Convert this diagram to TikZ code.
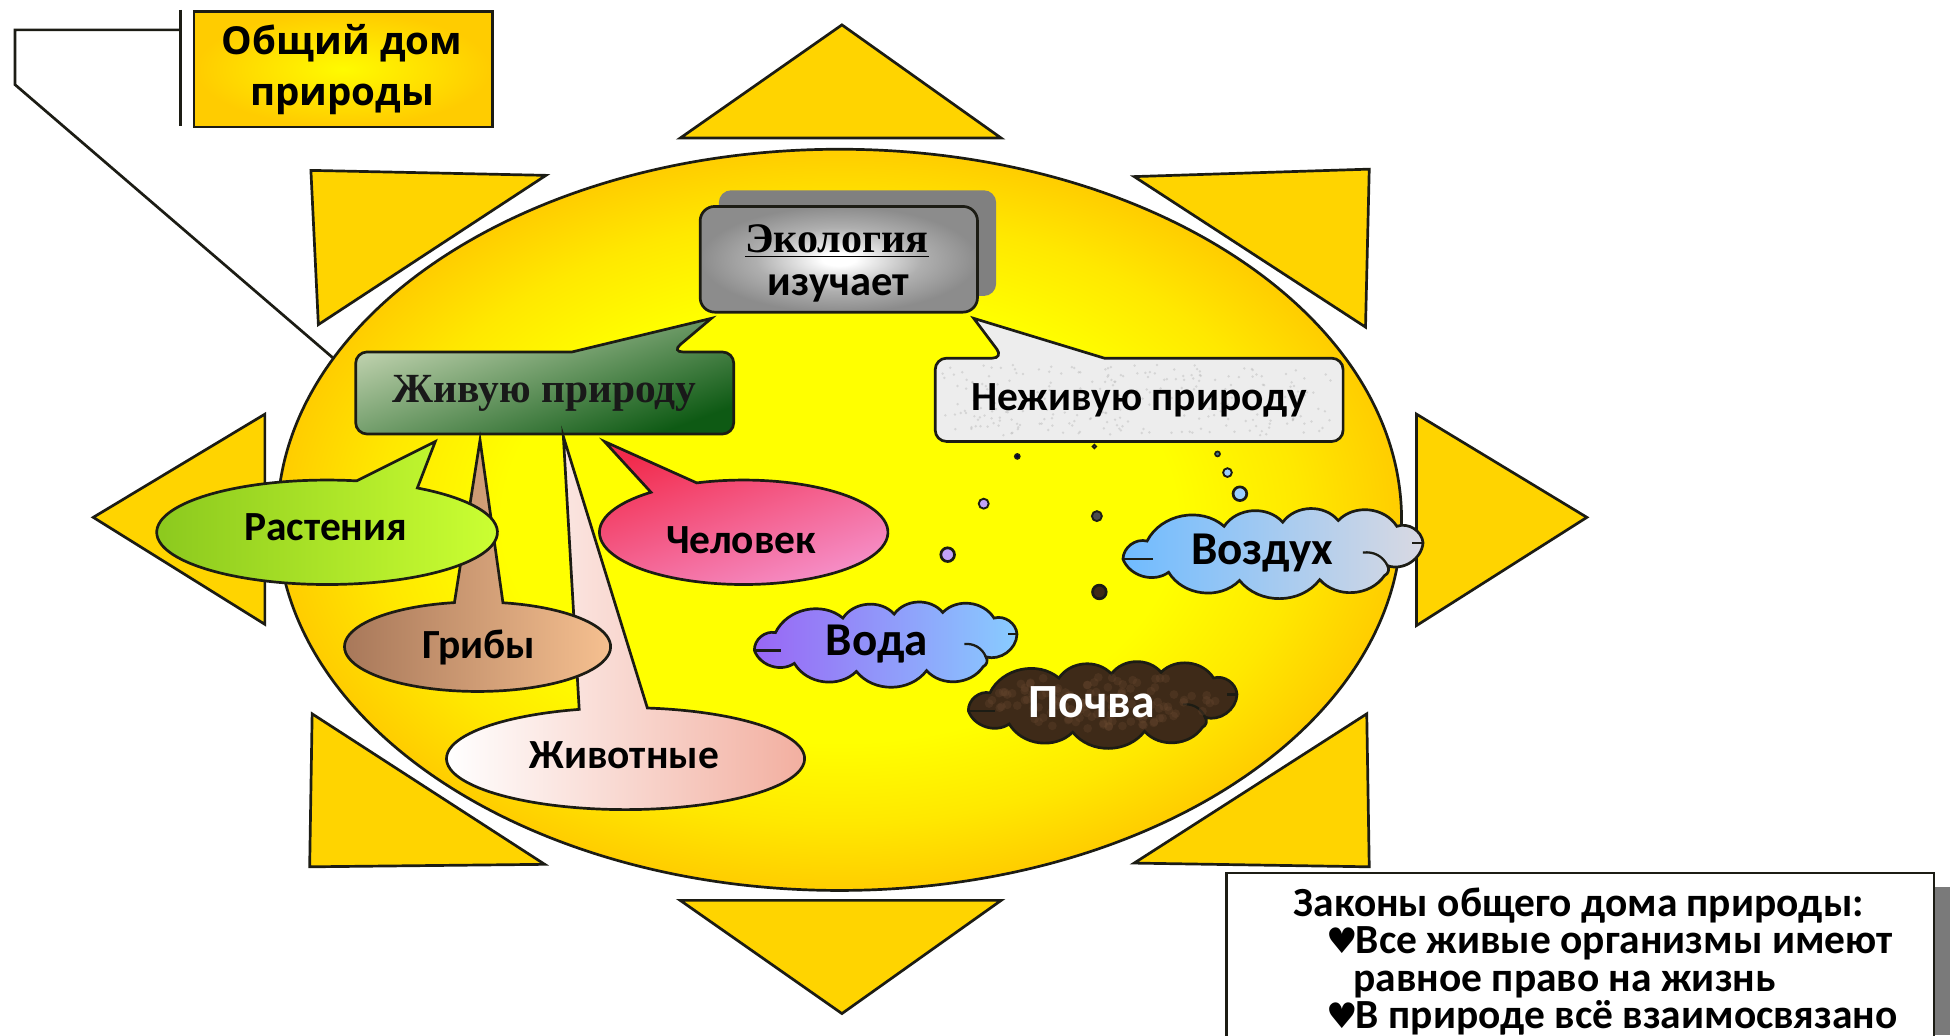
\documentclass[tikz,border=0pt]{standalone}
\usepackage{fontspec}
\setmainfont{Carlito}
\newfontfamily\serifbold{Liberation Serif}[BoldFont={Liberation Serif Bold}]
\newfontfamily\titlefont{Open Sans}
\newfontfamily\symfont{DejaVu Sans}
\usetikzlibrary{shadings}
\definecolor{ink}{HTML}{1C1C14}
\definecolor{ray}{HTML}{FFD400}
\definecolor{sunMid}{RGB}{255,232,0}
\definecolor{sunEdge}{RGB}{255,205,0}
\definecolor{ecoMid}{RGB}{175,175,175}
\definecolor{ecoEdge}{RGB}{140,140,140}
\pgfdeclareradialshading{sunglow}{\pgfpoint{0bp}{0bp}}{color(0bp)=(yellow); color(15bp)=(yellow); color(20.5bp)=(sunMid); color(25bp)=(sunEdge); color(50bp)=(sunEdge)}
\pgfdeclareradialshading{ecoglow}{\pgfpoint{0bp}{0bp}}{color(0bp)=(white); color(3bp)=(white); color(15bp)=(ecoMid); color(25bp)=(ecoEdge); color(50bp)=(ecoEdge)}
\definecolor{liveL}{HTML}{C6D6B4}\definecolor{liveR}{HTML}{0E5A14}
\definecolor{plantL}{HTML}{8CC91E}\definecolor{plantR}{HTML}{CBFF32}
\definecolor{manL}{HTML}{F22B4C}\definecolor{manR}{HTML}{F58FC8}
\definecolor{fungL}{HTML}{A8785A}\definecolor{fungR}{HTML}{F6C090}
\definecolor{animR}{HTML}{F2AFA0}
\definecolor{airL}{HTML}{6FBBFF}\definecolor{airR}{HTML}{D9D9E2}
\definecolor{watL}{HTML}{9966F5}\definecolor{watR}{HTML}{88CCFF}
\definecolor{soil}{HTML}{3E2A18}
\definecolor{soilspot}{HTML}{6B4A30}
\tikzset{
  x=0.6pt,y=-0.6pt,
  outline/.style={draw=ink,line width=1.3pt,line join=miter},
  rayshape/.style={outline,fill=ray},
  lbl/.style={font=\fontsize{20}{24}\selectfont\bfseries,text=black,inner sep=0pt},
  bigger/.style={font=\fontsize{22.7}{26}\selectfont\bfseries,text=black,inner sep=0pt},
  lawtext/.style={font=\fontsize{20}{24}\selectfont\bfseries,text=black,inner sep=0pt,anchor=base west},
  lawheart/.style={font=\symfont\fontsize{17}{20}\selectfont,text=black,inner sep=0pt,anchor=base west},
  titletext/.style={font=\titlefont\fontsize{18.6}{24.6}\selectfont\bfseries,text=black,inner sep=0pt},
}
% centre x, centre y, rx, ry, start angle, end angle, tip x, tip y, style
\newcommand\talkellipse[9]{%
  \path[outline,#9] plot[domain=#5:#6,samples=90,smooth] ({#1+#3*cos(\x)},{#2+#4*sin(\x)}) -- (#7,#8) -- cycle;}
% left, top, width, height, style
\newcommand\puffpath[5]{%
  \begin{scope}[shift={(#1,#2)},x={(#3*0.6pt,0pt)},y={(0pt,-#4*0.6pt)},every to/.style={bend left=52}]
    \path[outline,#5] (0.09,0.38) to (0.34,0.20) to (0.53,0.15) to (0.71,0.13) to (0.90,0.20) to (0.985,0.40)
      to (0.87,0.68) to (0.86,0.80) to (0.65,0.85) to (0.39,0.86) to (0.16,0.76) to (0.012,0.60) to (0.09,0.38) -- cycle;
    \draw[ink,line width=1.1pt] (0.012,0.60) -- (0.11,0.60);
    \draw[ink,line width=1.1pt] (0.79,0.52) to[bend left=35] (0.87,0.68);
    \draw[ink,line width=1.1pt] (0.985,0.40) -- (0.95,0.40);
  \end{scope}}
\begin{document}
\begin{tikzpicture}
\useasboundingbox (0,0) rectangle (1568,832.3);
\clip (0,0) rectangle (1568,832.3);
\fill[white] (0,0) rectangle (1568,832.3);
\pgfmathsetseed{7}

% rays
\path[rayshape] (677,20) -- (805,111) -- (547,111) -- cycle;
\path[rayshape] (912,142) -- (1101,136) -- (1098,263) -- cycle;
\path[rayshape] (1139,333) -- (1276,416) -- (1139,503) -- cycle;
\path[rayshape] (1099,574) -- (1101,697) -- (912,694) -- cycle;
\path[rayshape] (547,724) -- (805,724) -- (677,815) -- cycle;
\path[rayshape] (251,574) -- (438,695) -- (249,697) -- cycle;
\path[rayshape] (213,333) -- (75,416) -- (213,502) -- cycle;
\path[rayshape] (250,137) -- (439,141) -- (256,261) -- cycle;

% connector behind the sun
\coordinate (barTop) at (145,8);
\coordinate (barEnd) at (145,101);
\coordinate (barJoin) at (145,24);
\coordinate (bendA) at (12,24);
\coordinate (bendB) at (12,68);
\coordinate (sunHit) at (268,288);
\draw[ink,line width=1.3pt] (barJoin) -- (bendA) -- (bendB) -- (sunHit);
\draw[ink,line width=1.4pt] (barTop) -- (barEnd);

% sun disc
\path[outline,shading=sunglow] (675,418) ellipse [x radius=452,y radius=298];

% title box
\node[outline,inner sep=0pt,minimum width=144pt,minimum height=55.8pt,anchor=north west,
      inner color=yellow!90!ray,outer color=ray!90!orange] (titlebox) at (155,8) {};
\node[titletext,align=center] (titletxt) at (275,56) {Общий дом\\природы};

% Ecology box
\path[fill=black!50,rounded corners=6pt] (578,153) rectangle (801,238);
\path[outline,rounded corners=7pt,shading=ecoglow] (563,166) rectangle (786,251);
\node[inner sep=0pt,font=\serifbold\fontsize{20.3}{24}\selectfont\bfseries] (ecoA) at (673,194) {\underline{Экология}};
\node[lbl,font=\fontsize{20.5}{24}\selectfont\bfseries] (ecoB) at (674,232) {изучает};

% Living nature callout
\path[outline,left color=liveL,right color=liveR,shading angle=20]
  (540,283) [sharp corners] -- (572,256) -- (460,283) [rounded corners=5.5pt] -- (286,283) -- (286,349) -- (590,349) -- (590,283) -- cycle;
\node[inner sep=0pt,font=\serifbold\fontsize{20}{24}\selectfont\bfseries,text=black!90] (live) at (438,316) {Живую природу};

% Non-living callout
\path[outline,fill=black!7]
  (807,288) [sharp corners] -- (783,256) -- (888,288) [rounded corners=5.5pt] -- (1080,288) -- (1080,355) -- (752,355) -- (752,288) -- cycle;
\foreach \i in {1,...,260}{
  \pgfmathsetmacro\sx{758+316*rnd}\pgfmathsetmacro\sy{293+57*rnd}
  \fill[black!28,opacity=.45] (\sx,\sy) circle [radius=1.1];
}
\node[lbl] (dead) at (916,322) {Неживую природу};

% speech ellipses
\talkellipse{598}{428}{116}{42}{-109}{230}{486}{355}{left color=manL,right color=manR,shading angle=20}
\node[lbl] (man) at (596,434) {Человек};

\talkellipse{503}{610}{144}{41}{-83}{255}{453}{351}{left color=white,right color=animR}
\node[lbl] (animals) at (502,607) {Животные};

\talkellipse{384}{520}{107}{36}{-79}{260}{386}{354}{left color=fungL,right color=fungR}
\node[lbl] (fungi) at (385,521) {Грибы};

\talkellipse{263}{428}{137}{42}{-58}{280}{350}{355}{left color=plantL,right color=plantR}
\node[lbl] (plants) at (262,424) {Растения};

% bubbles to clouds
\path[outline,fill=blue!25!black,line width=.8pt] (818,367) circle [radius=2];
\path[outline,fill=watL!60!white,line width=.9pt] (791,405) circle [radius=4];
\path[outline,fill=watL!60!white] (762,446) circle [radius=5.5];
\path[outline,fill=black!70,line width=.8pt] (880,359) circle [radius=1.5];
\path[outline,fill=black!70,line width=.9pt] (882,415) circle [radius=4];
\path[outline,fill=soil] (884,476) circle [radius=5.5];
\path[outline,fill=cyan!50!black,line width=.8pt] (979,365) circle [radius=2];
\path[outline,fill=airL!70!white,line width=.9pt] (987,380) circle [radius=3.5];
\path[outline,fill=airL!70!white] (997,397) circle [radius=5.5];

% clouds
\puffpath{900}{410}{248}{66}{left color=airL,right color=airR}
\node[bigger] (air) at (1015,445) {Воздух};
\puffpath{604}{484}{217}{65}{left color=watL,right color=watR}
\node[bigger] (water) at (705,518) {Вода};
\puffpath{776}{532}{222}{66}{fill=soil}
\foreach \i in {1,...,120}{
  \pgfmathsetmacro\sa{360*rnd}\pgfmathsetmacro\sr{sqrt(rnd)}
  \pgfmathsetmacro\sx{887+92*\sr*cos(\sa)}\pgfmathsetmacro\sy{564+22*\sr*sin(\sa)}
  \fill[soilspot,opacity=.3] (\sx,\sy) circle [radius=3.5];
}
\node[bigger,text=white,font=\fontsize{23}{26}\selectfont\bfseries] (soiltext) at (878,565) {Почва};

% laws box
\fill[black!52] (1555,713) rectangle (1568,832.3);
\node[outline,fill=white,inner sep=0pt,minimum width=341.4pt,minimum height=84pt,anchor=north west] (lawbox) at (985,701) {};
\node[lawtext] (law1) at (1040,737) {Законы общего дома природы:};
\node[lawheart] (heartA) at (1066,767) {♥};
\node[lawtext] (law2) at (1090,767) {Все живые организмы имеют};
\node[lawtext] (law3) at (1088,797) {равное право на жизнь};
\node[lawheart] (heartB) at (1066,827) {♥};
\node[lawtext] (law4) at (1090,827) {В природе всё взаимосвязано};
\end{tikzpicture}
\end{document}
